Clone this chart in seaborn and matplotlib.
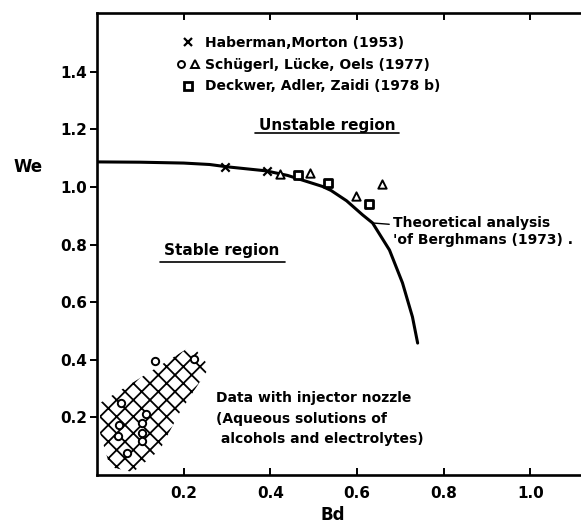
import numpy as np
import pandas as pd
import matplotlib
matplotlib.use("Agg")
import matplotlib.pyplot as plt
import seaborn as sns
from matplotlib.lines import Line2D
from matplotlib.legend_handler import HandlerTuple

# Theoretical stability limit, Berghmans (1973)
curve_bd = [0.0, 0.10, 0.20, 0.26, 0.30, 0.39, 0.44, 0.48, 0.52, 0.54, 0.576,
            0.613, 0.636, 0.675, 0.705, 0.728, 0.740]
curve_we = [1.087, 1.086, 1.083, 1.078, 1.070, 1.056, 1.040, 1.021, 1.002, 0.988,
            0.952, 0.903, 0.875, 0.781, 0.667, 0.549, 0.458]

# Haberman, Morton (1953)
haberman_bd = [0.296, 0.393]
haberman_we = [1.069, 1.056]

# Schügerl, Lücke, Oels (1977): triangles and circles (injector nozzle)
schuegerl_tri_bd = [0.422, 0.492, 0.597, 0.658]
schuegerl_tri_we = [1.045, 1.047, 0.969, 1.010]
schuegerl_circ_bd = [0.135, 0.225, 0.056, 0.113, 0.050, 0.103, 0.048, 0.105, 0.105, 0.070]
schuegerl_circ_we = [0.395, 0.403, 0.250, 0.212, 0.174, 0.181, 0.136, 0.146, 0.118, 0.076]

# Deckwer, Adler, Zaidi (1978b)
deckwer_bd = [0.464, 0.532, 0.627]
deckwer_we = [1.040, 1.013, 0.940]

# Outline of the injector-nozzle data band
band_bd = [0.007, 0.22, 0.26, 0.19, 0.145, 0.083, 0.03, 0.007]
band_we = [0.25, 0.45, 0.375, 0.215, 0.087, 0.01, 0.028, 0.146]

x_ticks = [0.2, 0.4, 0.6, 0.8, 1.0]
y_ticks = [0.2, 0.4, 0.6, 0.8, 1.0, 1.2, 1.4]

sns.set_theme(style="ticks")
plt.rcParams["font.family"] = ["DejaVu Sans"]
plt.rcParams["font.weight"] = "bold"
for key in ["text.color", "axes.labelcolor", "xtick.color", "ytick.color",
            "xtick.labelcolor", "ytick.labelcolor"]:
    plt.rcParams[key] = "black"
plt.rcParams["hatch.linewidth"] = 1.3
plt.rcParams["hatch.color"] = "black"

fig = plt.figure(figsize=(5.81, 5.25), dpi=100)
ax = fig.add_axes([97 / 581, 50 / 525, 484 / 581, 462 / 525])

curve = pd.DataFrame({"Bd": curve_bd, "We": curve_we})
sns.lineplot(data=curve, x="Bd", y="We", sort=False, estimator=None,
             color="black", linewidth=2.2, ax=ax)

ax.fill(band_bd, band_we, facecolor="none", edgecolor="black",
        linewidth=0, hatch="xx")

mk = dict(color="white", edgecolor="black", linewidth=1.4, ax=ax, zorder=5)
sns.scatterplot(x=haberman_bd, y=haberman_we, marker="x", s=36,
                color="black", linewidth=1.6, ax=ax, zorder=5)
sns.scatterplot(x=schuegerl_tri_bd, y=schuegerl_tri_we, marker="^", s=36, **mk)
sns.scatterplot(x=schuegerl_circ_bd, y=schuegerl_circ_we, marker="o", s=28, **mk)
sns.scatterplot(x=deckwer_bd, y=deckwer_we, marker="s", s=36,
                color="white", edgecolor="black", linewidth=2.0, ax=ax, zorder=5)

ax.set_xlim(0, 1.117)
ax.set_ylim(0, 1.604)
ax.set_xticks(x_ticks)
ax.set_xticklabels([f"{v:.1f}" for v in x_ticks])
ax.set_yticks(y_ticks)
ax.set_yticklabels([f"{v:.1f}" for v in y_ticks])

for side in ["left", "bottom", "top"]:
    ax.spines[side].set_linewidth(1.9)
    ax.spines[side].set_color("black")
ax.spines["right"].set_visible(False)

ax.tick_params(axis="x", direction="in", top=True, bottom=True, length=5,
               width=1.4, labelsize=11, pad=8)
ax.tick_params(axis="y", direction="out", left=True, length=5, width=1.4,
               labelsize=11, pad=2)

ax.set_xlabel("Bd", fontsize=12, fontweight="bold")
ax.set_ylabel("We", fontsize=12, fontweight="bold", rotation=0)
ax.xaxis.set_label_coords(0.488, -0.087)
ax.xaxis.label.set_verticalalignment("center")
ax.yaxis.set_label_coords(-0.143, 0.667)
ax.yaxis.label.set_verticalalignment("center")

# Legend
h_x = Line2D([], [], marker="x", color="black", linestyle="none",
             markersize=6, markeredgewidth=1.6)
h_o = Line2D([], [], marker="o", color="black", markerfacecolor="white",
             linestyle="none", markersize=5, markeredgewidth=1.4)
h_t = Line2D([], [], marker="^", color="black", markerfacecolor="white",
             linestyle="none", markersize=6, markeredgewidth=1.4)
h_s = Line2D([], [], marker="s", color="black", markerfacecolor="white",
             linestyle="none", markersize=6, markeredgewidth=2.0)
ax.legend([h_x, (h_o, h_t), h_s],
          ["Haberman,Morton (1953)", "Schügerl, Lücke, Oels (1977)",
           "Deckwer, Adler, Zaidi (1978 b)"],
          handler_map={tuple: HandlerTuple(ndivide=None, pad=0.1)},
          loc="upper left", bbox_to_anchor=(0.16, 0.95), frameon=False,
          prop=dict(size=10, weight="bold"), handlelength=1.9,
          handletextpad=0.3, labelspacing=0.55, borderpad=0, borderaxespad=0)

# Region labels with underlines
ax.text(0.532, 1.215, "Unstable region", ha="center", va="center", fontsize=11)
ax.plot([0.364, 0.698], [1.1875, 1.1875], color="black", linewidth=1.2)
ax.text(0.288, 0.778, "Stable region", ha="center", va="center", fontsize=11)
ax.plot([0.145, 0.433], [0.74, 0.74], color="black", linewidth=1.2)

# Theoretical curve annotation
ax.annotate("Theoretical analysis\n'of Berghmans (1973) .", xy=(0.636, 0.875),
            xytext=(0.682, 0.845), ha="left", va="center", fontsize=10,
            linespacing=1.3,
            arrowprops=dict(arrowstyle="-", color="black", linewidth=1.0,
                            shrinkA=0, shrinkB=0))

ax.text(0.275, 0.195, "Data with injector nozzle\n(Aqueous solutions of\n"
        " alcohols and electrolytes)", ha="left", va="center", fontsize=10,
        linespacing=1.6)

fig.savefig("out.png", dpi=100)
